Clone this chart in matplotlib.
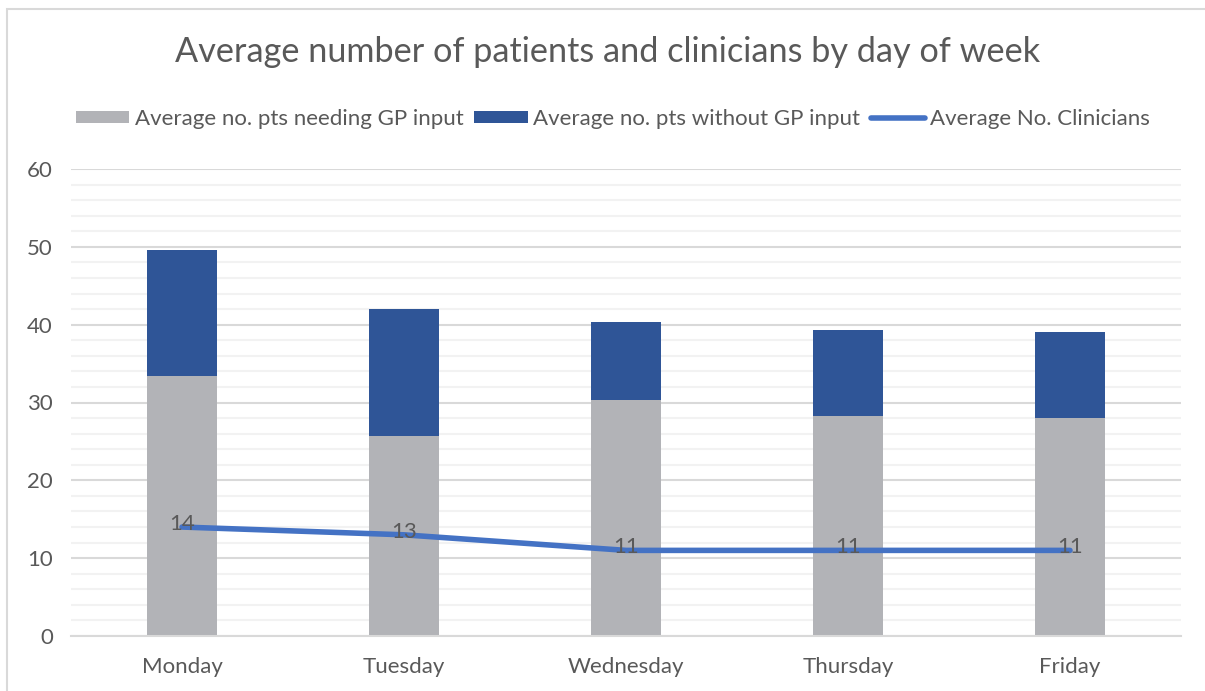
import matplotlib
matplotlib.use("Agg")
import matplotlib.pyplot as plt
from matplotlib.lines import Line2D
from matplotlib.patches import Patch, Rectangle
from matplotlib.ticker import MultipleLocator
import numpy as np

# ── Data ──────────────────────────────────────────────────────────────────────
DAYS = ["Monday", "Tuesday", "Wednesday", "Thursday", "Friday"]
PTS_NEEDING_GP = [33.4, 25.7, 30.3, 28.3, 28.0]
PTS_WITHOUT_GP = [16.2, 16.3, 10.1, 11.0, 11.1]
CLINICIANS = [14, 13, 11, 11, 11]

TITLE = "Average number of patients and clinicians by day of week"
LABELS = ["Average no. pts needing GP input",
          "Average no. pts without GP input",
          "Average No. Clinicians"]

# ── Style ─────────────────────────────────────────────────────────────────────
GREY = "#B2B3B7"
DARK_BLUE = "#2F5597"
LINE_BLUE = "#4472C4"
TEXT = "#595959"
FS = 16
plt.rcParams["font.family"] = ["Lato", "DejaVu Sans"]

W, H = 1205, 691
fig = plt.figure(figsize=(W / 100, H / 100), dpi=100)

# chart frame (only top/left edges are visible in the crop)
fig.patches.append(Rectangle((7 / W, -0.1), 1.2, (H - 9) / H + 0.1,
                             transform=fig.transFigure, fill=False,
                             edgecolor="#D9D9D9", linewidth=1.5))

ax = fig.add_axes([71 / W, (H - 636) / H, (1181 - 71) / W, (636 - 169) / H])

x = np.arange(len(DAYS))
ax.bar(x, PTS_NEEDING_GP, width=0.315, color=GREY, zorder=2)
ax.bar(x, PTS_WITHOUT_GP, width=0.315, bottom=PTS_NEEDING_GP,
       color=DARK_BLUE, zorder=2)
ax.plot(x, CLINICIANS, color=LINE_BLUE, linewidth=4, solid_capstyle="round",
        zorder=3)
for xi, v in zip(x, CLINICIANS):
    ax.text(xi, v + 0.4, str(v), ha="center", va="center", fontsize=FS,
            color=TEXT, zorder=4)

ax.set_xlim(-0.5, len(DAYS) - 0.5)
ax.set_ylim(0, 60)
ax.yaxis.set_major_locator(MultipleLocator(10))
ax.yaxis.set_minor_locator(MultipleLocator(2))
ax.grid(axis="y", which="major", color="#D9D9D9", linewidth=1.5, zorder=0)
ax.grid(axis="y", which="minor", color="#F2F2F2", linewidth=1.5, zorder=0)
ax.set_axisbelow(True)

for side in ["top", "right", "left"]:
    ax.spines[side].set_visible(False)
ax.spines["bottom"].set_color("#D9D9D9")
ax.spines["bottom"].set_linewidth(1.5)

ax.set_xticks(x)
ax.set_xticklabels(DAYS)
ax.tick_params(axis="both", which="both", length=0, labelsize=FS,
               labelcolor=TEXT)
ax.tick_params(axis="x", pad=15)
ax.tick_params(axis="y", pad=13)

fig.text(608 / W, 1 - 52 / H, TITLE, ha="center", va="center",
         fontsize=24.7, color=TEXT)

handles = [Patch(facecolor=GREY), Patch(facecolor=DARK_BLUE),
           Line2D([0], [0], color=LINE_BLUE, linewidth=4,
                  solid_capstyle="round")]
fig.legend(handles, LABELS, loc="center", bbox_to_anchor=(613 / W, 1 - 119 / H),
           ncol=3, frameon=False, fontsize=FS, labelcolor=TEXT,
           handlelength=2.4, handleheight=0.5, handletextpad=0.25,
           columnspacing=0.5)

fig.savefig("out.png", dpi=100)
